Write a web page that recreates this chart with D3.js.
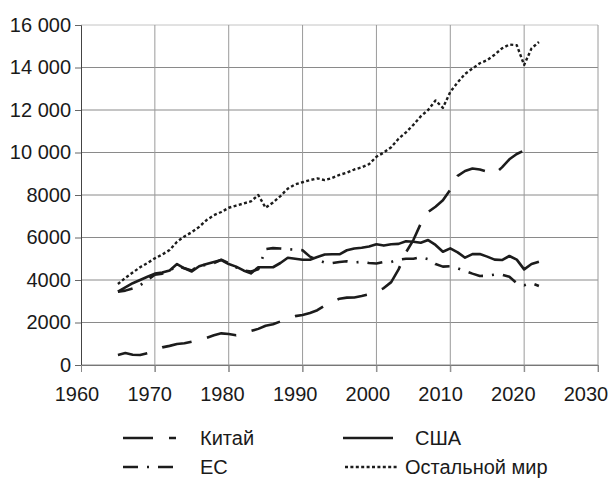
<!DOCTYPE html>
<html>
<head>
<meta charset="utf-8">
<script src="https://cdn.jsdelivr.net/npm/d3@7"></script>
<style>
  body { margin: 0; background: #fff; }
  text { font-family: "Liberation Sans", Arial, sans-serif; fill: #1a1a1a; }
</style>
</head>
<body>
<div id="my_dataviz"></div>
<script>
// years 1965..2022
let years = d3.range(1965, 2023);

let china = [470, 560, 480, 470, 560, 700, 830, 900, 990, 1020,
    1100, 1150, 1280, 1400, 1490, 1460, 1400, 1480, 1600, 1700,
    1850, 1920, 2050, 2200, 2300, 2350, 2450, 2580, 2800, 2950,
    3120, 3170, 3180, 3250, 3330, 3450, 3620, 3900, 4500, 5300,
    5880, 6650, 7200, 7450, 7750, 8250, 8900, 9130, 9250, 9200,
    9100, 9000, 9300, 9680, 9930, 10100, 10560];

let usa = [3450, 3650, 3850, 4000, 4150, 4300, 4350, 4450, 4750, 4550,
    4400, 4650, 4750, 4850, 4940, 4750, 4630, 4450, 4310, 4600,
    4600, 4600, 4800, 5050, 5000, 4950, 4950, 5080, 5200, 5210,
    5210, 5400, 5480, 5520, 5580, 5680, 5620, 5680, 5700, 5820,
    5800, 5750, 5880, 5650, 5330, 5490, 5300, 5050, 5220, 5220,
    5100, 4960, 4940, 5130, 4960, 4500, 4750, 4860];

let eu = [3450, 3500, 3600, 3750, 4000, 4250, 4300, 4450, 4650, 4550,
    4450, 4700, 4700, 4800, 4950, 4800, 4600, 4450, 4400, 4500,
    5450, 5500, 5480, 5450, 5430, 5400, 5100, 4950, 4820, 4800,
    4850, 4880, 4830, 4850, 4800, 4780, 4850, 4850, 4950, 5000,
    5000, 5070, 4980, 4750, 4630, 4650, 4550, 4420, 4300, 4190,
    4200, 4250, 4250, 4150, 3850, 3750, 3850, 3720];

let rest = [3810, 4100, 4350, 4600, 4800, 5020, 5200, 5410, 5800, 6050,
    6250, 6500, 6820, 7050, 7200, 7400, 7500, 7600, 7700, 8000,
    7400, 7650, 7950, 8300, 8500, 8600, 8700, 8780, 8700, 8800,
    8950, 9050, 9200, 9300, 9450, 9800, 10000, 10250, 10650, 10950,
    11300, 11700, 12000, 12450, 12100, 12850, 13300, 13700, 13950, 14200,
    14350, 14600, 14900, 15080, 15050, 14120, 14900, 15200];

let xTicks = [1960, 1970, 1980, 1990, 2000, 2010, 2020, 2030];
let yTicks = [0, 2000, 4000, 6000, 8000, 10000, 12000, 14000, 16000];

let seriesNames = ["Китай", "США", "ЕС", "Остальной мир"];

let series = [
    { name: seriesNames[0], values: china, dash: "30,16" },
    { name: seriesNames[1], values: usa, dash: null },
    { name: seriesNames[2], values: eu, dash: "15,9,2,9" },
    { name: seriesNames[3], values: rest, dash: "3,2.4" }
];

let margin = { top: 25, right: 14, bottom: 121, left: 81 },
    width = 612 - margin.left - margin.right,
    height = 486 - margin.top - margin.bottom;

let svg = d3.select("#my_dataviz")
    .append("svg")
    .attr("width", 612)
    .attr("height", 486)
    .append("g")
    .attr("transform", "translate(" + margin.left + "," + margin.top + ")");

let x = d3.scaleLinear().domain([1960, 2030]).range([0, width]);
let y = d3.scaleLinear().domain([0, 16000]).range([height, 0]);
// the year labels in the original sit a bit tighter than the grid
let xLabel = d3.scaleLinear().domain([1960, 2030]).range([-4, 505]);

let fmt = d => d >= 10000 ? d3.format(",")(d).replace(",", " ") : String(d);

// grid
svg.append("g")
    .selectAll("line")
    .data(yTicks)
    .enter()
    .append("line")
    .attr("x1", 0).attr("x2", width)
    .attr("y1", d => y(d)).attr("y2", d => y(d))
    .attr("stroke", d => d == 16000 ? "#c4c4c4" : "#8a8a8a")
    .attr("stroke-width", 1);

svg.append("g")
    .selectAll("line")
    .data(xTicks.slice(1))
    .enter()
    .append("line")
    .attr("x1", d => x(d)).attr("x2", d => x(d))
    .attr("y1", 0).attr("y2", height + 7)
    .attr("stroke", "#9a9a9a")
    .attr("stroke-width", 1);

// axes
let yAxis = svg.append("g")
    .call(d3.axisLeft(y).tickValues(yTicks).tickFormat(fmt).tickSize(6).tickPadding(4));
yAxis.select(".domain").attr("stroke", "#444");
yAxis.selectAll(".tick line").attr("stroke", "#666");
yAxis.selectAll("text").style("font-size", "20px").attr("fill", "#1a1a1a");

let xAxis = svg.append("g")
    .attr("transform", "translate(0," + height + ")")
    .call(d3.axisBottom(x).tickValues(xTicks).tickFormat("").tickSize(7));
xAxis.select(".domain").attr("stroke", "#777");
xAxis.selectAll(".tick line").attr("stroke", "#888");

svg.append("g")
    .selectAll("text")
    .data(xTicks)
    .enter()
    .append("text")
    .attr("x", d => xLabel(d))
    .attr("y", height + 36)
    .attr("text-anchor", "middle")
    .style("font-size", "20px")
    .text(d => d);

// lines
let line = d3.line()
    .x((d, i) => x(years[i]))
    .y(d => y(d));

svg.selectAll("myLines")
    .data(series)
    .enter()
    .append("path")
    .attr("d", d => line(d.values))
    .attr("fill", "none")
    .attr("stroke", "#1c1c1c")
    .attr("stroke-width", d => d.dash == "3,2.4" ? 2.4 : 2.6)
    .attr("stroke-dasharray", d => d.dash)
    .attr("stroke-linejoin", "round");

// legend
let legend = [
    { s: series[0], x1: 42, x2: 95, tx: 119, ty: 413 },
    { s: series[1], x1: 262, x2: 312, tx: 334, ty: 413 },
    { s: series[2], x1: 42, x2: 92, tx: 119, ty: 442 },
    { s: series[3], x1: 264, x2: 318, tx: 324, ty: 442 }
];

let lg = svg.selectAll("myLegend")
    .data(legend)
    .enter()
    .append("g");

lg.append("line")
    .attr("x1", d => d.x1).attr("x2", d => d.x2)
    .attr("y1", d => d.ty).attr("y2", d => d.ty)
    .attr("stroke", "#1c1c1c")
    .attr("stroke-width", 2.4)
    .attr("stroke-dasharray", d => d.s.dash);

lg.append("text")
    .attr("x", d => d.tx)
    .attr("y", d => d.ty)
    .attr("dy", "0.35em")
    .style("font-size", "20px")
    .text(d => d.s.name);
</script>
</body>
</html>
